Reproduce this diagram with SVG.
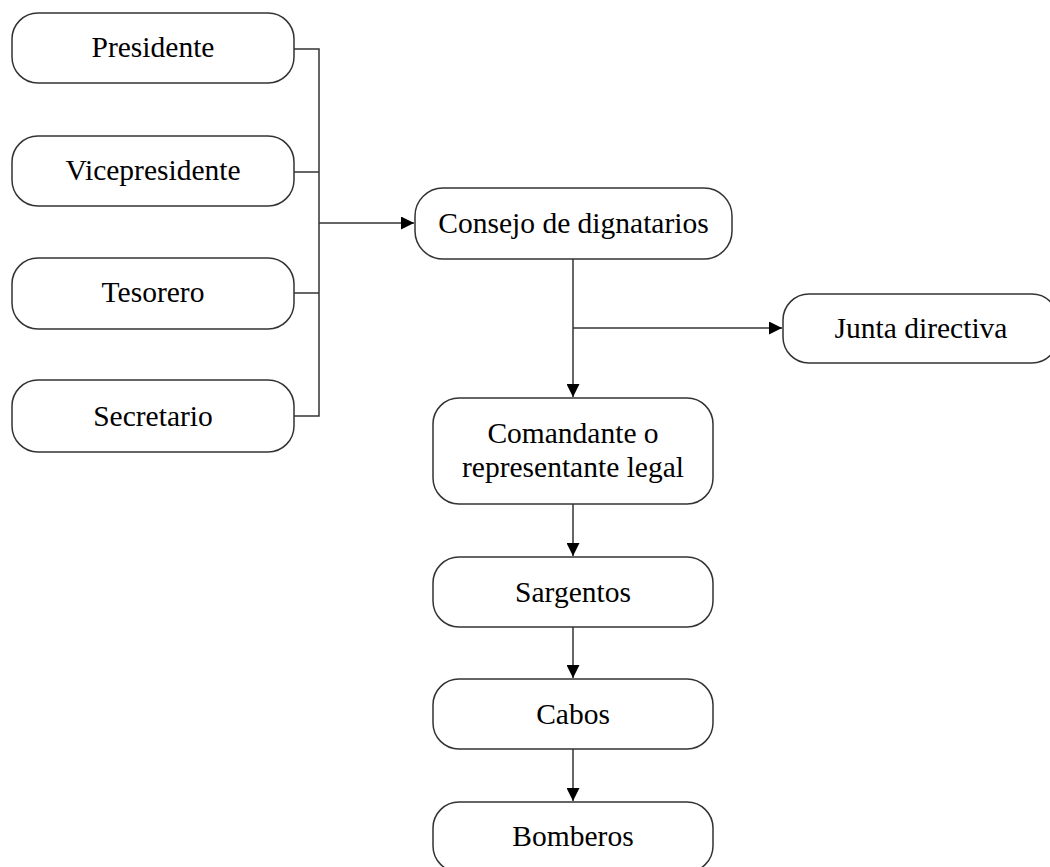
<svg xmlns="http://www.w3.org/2000/svg" width="1050" height="867" viewBox="0 0 1050 867">
<defs>
<style>
.box{fill:#fff;stroke:#333;stroke-width:1.5}
.lbl{font-family:"Liberation Serif","Times New Roman",serif;font-size:29.5px;fill:#000;text-anchor:middle}
.con{fill:none;stroke:#333;stroke-width:1.5}
</style>
<marker id="arr" viewBox="0 0 10 10" refX="10" refY="5" markerWidth="13" markerHeight="13" markerUnits="userSpaceOnUse" orient="auto">
<path d="M0,0 L10,5 L0,10 Z" fill="#000"/>
</marker>
</defs>
<rect width="1050" height="867" fill="#fff"/>
<g id="connectors">
<path class="con" d="M294,49 H319 V416 H294"/>
<path class="con" d="M294,172 H319"/>
<path class="con" d="M294,293 H319"/>
<path class="con" d="M319,223 H414" marker-end="url(#arr)"/>
<path class="con" d="M573,259 V397" marker-end="url(#arr)"/>
<path class="con" d="M573,328 H782" marker-end="url(#arr)"/>
<path class="con" d="M573,504 V556" marker-end="url(#arr)"/>
<path class="con" d="M573,627 V678" marker-end="url(#arr)"/>
<path class="con" d="M573,749 V801" marker-end="url(#arr)"/>
</g>
<g id="presidente"><rect class="box" x="12" y="13" width="282" height="70" rx="26"/><text class="lbl" x="153" y="57">Presidente</text></g>
<g id="vicepresidente"><rect class="box" x="12" y="136" width="282" height="70" rx="26"/><text class="lbl" x="153" y="180">Vicepresidente</text></g>
<g id="tesorero"><rect class="box" x="12" y="258" width="282" height="71" rx="26"/><text class="lbl" x="153" y="302">Tesorero</text></g>
<g id="secretario"><rect class="box" x="12" y="380" width="282" height="72" rx="26"/><text class="lbl" x="153" y="426">Secretario</text></g>
<g id="consejo"><rect class="box" x="415" y="188" width="317" height="71" rx="28"/><text class="lbl" x="573.5" y="233">Consejo de dignatarios</text></g>
<g id="junta"><rect class="box" x="783" y="294" width="275" height="69" rx="26"/><text class="lbl" x="921" y="338">Junta directiva</text></g>
<g id="comandante"><rect class="box" x="433" y="398" width="280" height="106" rx="26"/><text class="lbl" x="573" y="443">Comandante o</text><text class="lbl" x="573" y="477">representante legal</text></g>
<g id="sargentos"><rect class="box" x="433" y="557" width="280" height="70" rx="26"/><text class="lbl" x="573" y="602">Sargentos</text></g>
<g id="cabos"><rect class="box" x="433" y="679" width="280" height="70" rx="26"/><text class="lbl" x="573" y="724">Cabos</text></g>
<g id="bomberos"><rect class="box" x="433" y="802" width="280" height="70" rx="26"/><text class="lbl" x="573" y="846">Bomberos</text></g>
</svg>
